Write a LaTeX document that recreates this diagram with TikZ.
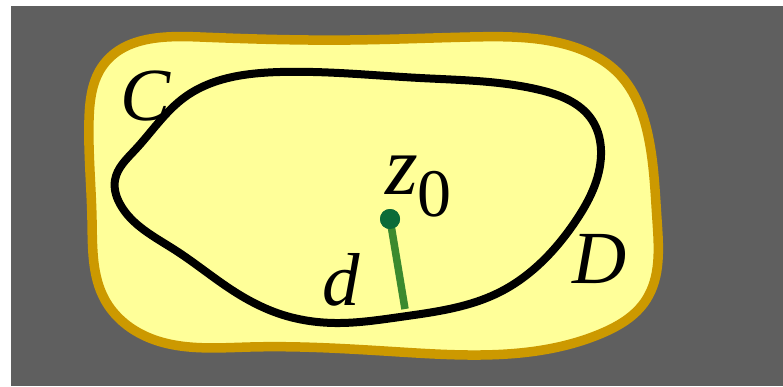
\documentclass[tikz,border=0pt]{standalone}
\usepackage{fontspec}
\setmainfont{Liberation Serif}
\usetikzlibrary{hobby}
\definecolor{bggray}{HTML}{5F5F5F}
\definecolor{blobfill}{HTML}{FFFF99}
\definecolor{blobedge}{HTML}{CC9900}
\definecolor{radline}{HTML}{3B8A2E}
\definecolor{dotgreen}{HTML}{0B6B38}
\tikzset{
  lbl/.style={font=\fontsize{75}{80}\selectfont\itshape, inner sep=0pt, anchor=base},
}
\begin{document}
\begin{tikzpicture}[x=1pt,y=-1pt]
\useasboundingbox (0,0) rectangle (783,386);
\fill[bggray] (11,6) rectangle (783,386);
% outer region D
\draw[blobedge, fill=blobfill, line width=9.5pt]
  plot[closed hobby] coordinates {
  (200,37) (350,40) (470,37) (560,43) (620,75) (648,135) (657,220)
  (646,300) (600,334) (400,352) (250,347) (145,336) (105,300) (92,220)
  (89,120) (104,64)};
% inner curve C
\draw[black, line width=8pt]
  plot[closed hobby] coordinates {
  (280,72) (420,78) (540,90) (592,120) (601,155) (575,222) (500,292)
  (400,317) (335,323) (280,314) (235,292) (175,250) (120,204) (115,180)
  (135,150) (185,97)};
% centre and radius
\node[circle, fill=dotgreen, minimum size=20pt, inner sep=0pt] (z0) at (390,219) {};
\coordinate (foot) at (405,309);
\draw[radline, line width=7.5pt] (z0.center) -- (foot);
\fill[dotgreen] (z0) circle (10pt);
% labels
\node[lbl] (labC) at (146,120) {C};
\node[lbl] (labD) at (600,283) {D};
\node[lbl] (labd) at (341,305) {d};
\node[lbl, anchor=base west, font=\fontsize{84}{88}\selectfont\itshape] (labz) at (385,194) {z\raisebox{-22pt}{\fontsize{68}{70}\selectfont\upshape 0}};
\end{tikzpicture}
\end{document}
